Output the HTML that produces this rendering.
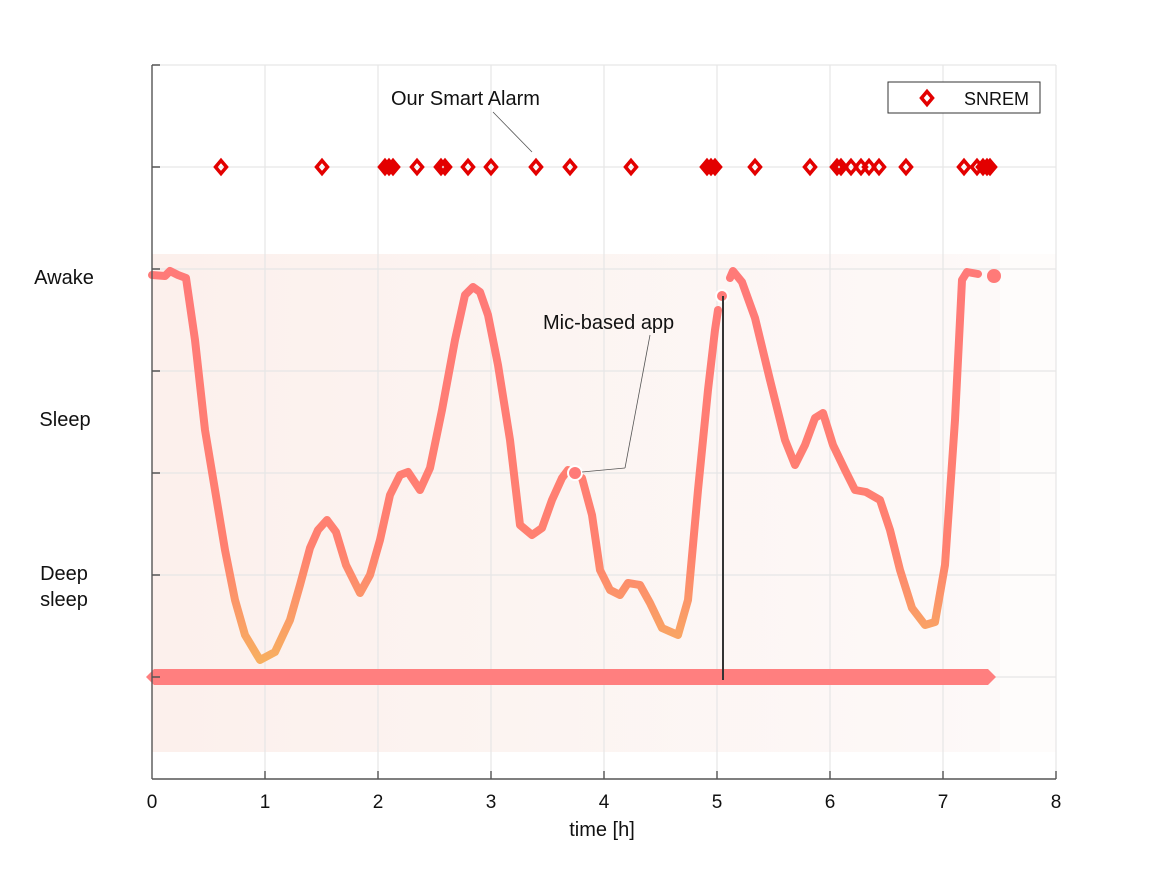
<!DOCTYPE html>
<html><head><meta charset="utf-8"><style>
body{margin:0;background:#fff}
svg text{font-family:"Liberation Sans",Arial,sans-serif;fill:#111}
</style></head><body>
<svg width="1167" height="875" viewBox="0 0 1167 875" xmlns="http://www.w3.org/2000/svg">
<defs>
<linearGradient id="lg" x1="0" y1="270" x2="0" y2="665" gradientUnits="userSpaceOnUse">
<stop offset="0" stop-color="#ff7a78"/><stop offset="0.7" stop-color="#ff8070"/><stop offset="1" stop-color="#f7b060"/>
</linearGradient>
<linearGradient id="bg" x1="152" y1="0" x2="1000" y2="0" gradientUnits="userSpaceOnUse">
<stop offset="0" stop-color="#fcf0ec"/><stop offset="1" stop-color="#fdf9f8"/>
</linearGradient>
<g id="d"><path d="M0,-6.5 L5.5,0 L0,6.5 L-5.5,0Z" fill="none" stroke="#e30000" stroke-width="3.5"/></g>
</defs>
<rect x="152" y="254" width="848" height="498" fill="url(#bg)"/>
<rect x="1000" y="254" width="56" height="498" fill="#fefcfb"/>
<g stroke="#e6e6e6" stroke-width="1.2">
<line x1="265" y1="65" x2="265" y2="779"/><line x1="378" y1="65" x2="378" y2="779"/><line x1="491" y1="65" x2="491" y2="779"/><line x1="604" y1="65" x2="604" y2="779"/><line x1="717" y1="65" x2="717" y2="779"/><line x1="830" y1="65" x2="830" y2="779"/><line x1="943" y1="65" x2="943" y2="779"/><line x1="1056" y1="65" x2="1056" y2="779"/>
<line x1="152" y1="65" x2="1056" y2="65"/><line x1="152" y1="167" x2="1056" y2="167"/><line x1="152" y1="269" x2="1056" y2="269"/><line x1="152" y1="371" x2="1056" y2="371"/><line x1="152" y1="473" x2="1056" y2="473"/><line x1="152" y1="575" x2="1056" y2="575"/><line x1="152" y1="677" x2="1056" y2="677"/>
</g>
<g fill="none" stroke="url(#lg)" stroke-width="8" stroke-linejoin="round" stroke-linecap="round">
<path d="M152,275 L165,276 L170,271 L178,275 L186,278 L195,340 L205,430 L215,490 L225,550 L235,600 L245,635 L260,660 L275,652 L290,620 L300,585 L310,548 L318,530 L327,520 L336,532 L346,565 L360,593 L370,575 L380,540 L390,495 L400,475 L408,472 L420,490 L430,468 L442,410 L455,340 L465,295 L473,287 L480,292 L488,315 L498,365 L510,440 L520,525 L532,535 L542,528 L552,500 L562,478 L568,470"/>
<path d="M582,478 L592,515 L600,570 L610,590 L620,595 L628,583 L640,585 L650,603 L662,628 L678,635 L688,600 L698,490 L708,390 L715,330 L718,310"/>
<path d="M730,278 L733,271 L742,282 L755,318 L770,380 L785,440 L795,465 L805,445 L815,418 L823,413 L833,445 L845,470 L855,490 L866,492 L880,500 L890,530 L900,570 L912,608 L925,625 L935,622 L945,565 L955,420 L962,280 L967,272 L978,274"/>
</g>
<circle cx="575" cy="473" r="7" fill="#ff7a78" stroke="#fff" stroke-width="2"/>
<circle cx="722" cy="296" r="6" fill="#ff7a78" stroke="#fff" stroke-width="2"/>
<circle cx="994" cy="276" r="7" fill="#ff7a78"/>
<path d="M146,677 L154,669 L988,669 L996,677 L988,685 L154,685Z" fill="#ff7f7f"/>
<line x1="723" y1="296" x2="723" y2="680" stroke="#333" stroke-width="2"/>
<g stroke="#555" stroke-width="1.4" fill="none">
<line x1="152" y1="65" x2="152" y2="779"/><line x1="152" y1="779" x2="1056" y2="779"/>
<path d="M152,65h8M152,167h8M152,269h8M152,371h8M152,473h8M152,575h8M152,677h8"/>
<path d="M265,779v-8M378,779v-8M491,779v-8M604,779v-8M717,779v-8M830,779v-8M943,779v-8M1056,779v-8"/>
</g>
<g>
<use href="#d" x="221" y="167"/><use href="#d" x="322" y="167"/>
<use href="#d" x="385" y="167"/><use href="#d" x="389" y="167"/><use href="#d" x="393" y="167"/>
<use href="#d" x="417" y="167"/><use href="#d" x="441" y="167"/><use href="#d" x="445" y="167"/>
<use href="#d" x="468" y="167"/><use href="#d" x="491" y="167"/><use href="#d" x="536" y="167"/><use href="#d" x="570" y="167"/><use href="#d" x="631" y="167"/>
<use href="#d" x="707" y="167"/><use href="#d" x="711" y="167"/><use href="#d" x="715" y="167"/>
<use href="#d" x="755" y="167"/><use href="#d" x="810" y="167"/>
<use href="#d" x="837" y="167"/><use href="#d" x="841" y="167"/><use href="#d" x="851" y="167"/><use href="#d" x="861" y="167"/><use href="#d" x="869" y="167"/><use href="#d" x="879" y="167"/><use href="#d" x="906" y="167"/>
<use href="#d" x="964" y="167"/><use href="#d" x="977" y="167"/><use href="#d" x="983" y="167"/><use href="#d" x="987" y="167"/><use href="#d" x="990" y="167"/>
</g>
<rect x="888" y="82" width="152" height="31" fill="#fff" stroke="#333" stroke-width="1"/>
<use href="#d" x="927" y="98"/>
<text x="964" y="105" font-size="18">SNREM</text>
<line x1="493" y1="112" x2="532" y2="152" stroke="#555" stroke-width="0.8"/>
<text x="391" y="105" font-size="20">Our Smart Alarm</text>
<line x1="582" y1="472" x2="625" y2="468" stroke="#555" stroke-width="0.8"/>
<line x1="625" y1="468" x2="650" y2="335" stroke="#555" stroke-width="0.8"/>
<text x="543" y="329" font-size="20">Mic-based app</text>
<g font-size="20" text-anchor="middle">
<text x="64" y="284">Awake</text><text x="65" y="426">Sleep</text><text x="64" y="580">Deep</text><text x="64" y="606">sleep</text>
</g>
<g font-size="19" text-anchor="middle">
<text x="152" y="808">0</text><text x="265" y="808">1</text><text x="378" y="808">2</text><text x="491" y="808">3</text><text x="604" y="808">4</text><text x="717" y="808">5</text><text x="830" y="808">6</text><text x="943" y="808">7</text><text x="1056" y="808">8</text>
<text x="602" y="836" font-size="20">time [h]</text>
</g>
</svg>
</body></html>
